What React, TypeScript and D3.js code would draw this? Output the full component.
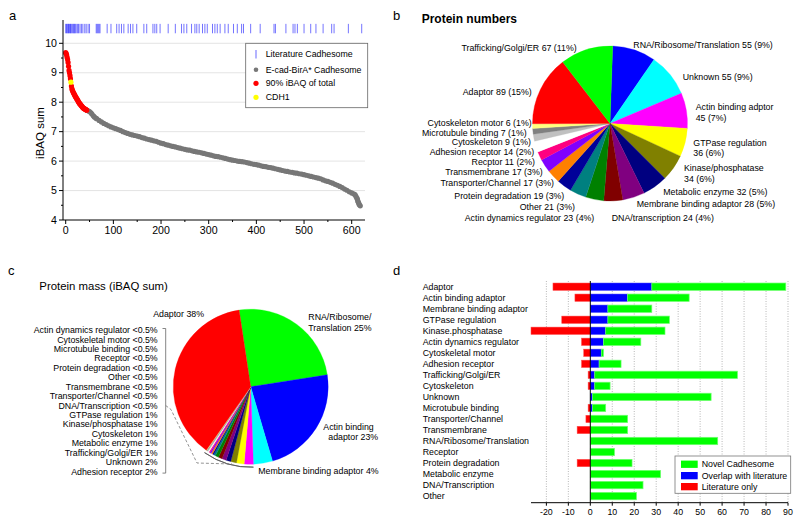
import React from 'react';
import * as d3 from 'd3';

const FONT = '"Liberation Sans", Arial, Helvetica, sans-serif';

// ---------- Panel a data ----------
// iBAQ sum (log10) of the top-ranked proteins (rank = index), 90% of total
const redValues = [9.68, 9.65, 9.6, 9.52, 9.45, 9.35, 9.22, 9.08, 9.0, 8.9, 8.8, 8.68, 8.55, 8.46, 8.41, 8.37, 8.33, 8.3, 8.27, 8.24,
  8.2, 8.18, 8.15, 8.12, 8.1, 8.07, 8.04, 8.01, 7.98, 7.96, 7.94, 7.92, 7.9, 7.88, 7.86, 7.84, 7.82, 7.8, 7.79, 7.78,
  7.77, 7.76, 7.75, 7.74, 7.73];
const cdh1Rank = 11;
const cdh1Value = 8.68;
// remaining proteins [rank, iBAQ sum]
const grayPoints: [number, number][] = [
  [45, 7.72], [48, 7.7], [50, 7.68], [53, 7.64], [55, 7.6], [58, 7.54], [60, 7.5], [63, 7.46], [65, 7.44], [70, 7.38], [75, 7.33], [80, 7.28],
  [85, 7.24], [90, 7.2], [95, 7.16], [100, 7.13], [105, 7.1], [110, 7.07], [115, 7.04], [120, 7.0], [125, 6.97], [130, 6.94],
  [135, 6.91], [140, 6.89], [145, 6.87], [150, 6.85], [155, 6.83], [160, 6.8], [165, 6.78], [170, 6.75], [175, 6.73], [180, 6.71],
  [185, 6.69], [190, 6.67], [195, 6.64], [200, 6.61], [205, 6.59], [210, 6.56], [215, 6.54], [220, 6.52], [225, 6.5], [230, 6.48],
  [235, 6.46], [240, 6.44], [245, 6.42], [250, 6.4], [255, 6.38], [260, 6.37], [265, 6.35], [270, 6.33], [275, 6.31], [280, 6.3],
  [285, 6.28], [290, 6.26], [295, 6.24], [300, 6.22], [305, 6.2], [310, 6.18], [315, 6.16], [320, 6.15], [325, 6.13], [330, 6.11],
  [335, 6.09], [340, 6.07], [345, 6.05], [350, 6.03], [355, 6.02], [360, 6.0], [365, 5.99], [370, 5.98], [375, 5.97], [380, 5.95],
  [385, 5.93], [390, 5.91], [395, 5.89], [400, 5.88], [405, 5.86], [410, 5.84], [415, 5.82], [420, 5.81], [425, 5.79], [430, 5.78],
  [435, 5.76], [440, 5.74], [445, 5.72], [450, 5.7], [455, 5.68], [460, 5.66], [465, 5.65], [470, 5.63], [475, 5.62], [480, 5.6],
  [485, 5.59], [490, 5.57], [495, 5.56], [500, 5.54], [505, 5.52], [510, 5.5], [515, 5.48], [520, 5.46], [525, 5.44], [530, 5.42],
  [535, 5.4], [540, 5.36], [545, 5.33], [550, 5.31], [555, 5.28], [560, 5.25], [565, 5.21], [570, 5.18], [575, 5.14], [580, 5.1],
  [585, 5.05], [590, 5.01], [595, 4.96], [600, 4.92], [604, 4.89], [607, 4.86], [609, 4.8], [611, 4.74], [612, 4.7], [613, 4.64],
  [614, 4.6], [615, 4.56], [616, 4.52], [618, 4.48],
];
// ranks of literature Cadhesome proteins (rug)
const literatureRanks = [0, 2, 3, 5, 6, 8, 10, 11, 13, 15, 17, 18, 20, 22, 25, 27, 30, 33, 36, 40, 43, 47, 50,
  64, 66, 68, 70, 72, 87, 95, 107, 112, 117, 122, 131, 136, 141, 149, 164, 170, 183, 187, 191, 198, 215, 230,
  243, 248, 254, 264, 271, 275, 280, 287, 292, 297, 308, 313, 318, 324, 334, 341, 352, 360, 369, 373, 388,
  408, 437, 440, 462, 477, 481, 486, 500, 514, 525, 540, 558, 563, 593, 621];
const aXTicks = [0, 100, 200, 300, 400, 500, 600];
const aYTicks = [4, 5, 6, 7, 8, 9, 10];

// ---------- palette ----------
const palette = ['#ff0000', '#00ff00', '#0000ff', '#00ffff', '#ff00ff', '#ffff00', '#808000', '#000080', '#800080', '#800000',
  '#008000', '#008080', '#000099', '#ff8000', '#8000ff', '#ff0080', '#ffffff', '#c0c0c0', '#808080', '#ffff80'];

// ---------- Panel b data (clockwise from 12 o'clock) ----------
const bNames = ['RNA/Ribosome/Translation', 'Unknown', 'Actin binding adptor', 'GTPase regulation', 'Kinase/phosphatase',
  'Metabolic enzyme', 'Membrane binding adaptor', 'DNA/transcription', 'Actin dynamics regulator', 'Other',
  'Protein degradation', 'Transporter/Channel', 'Transmembrane', 'Recptor', 'Adhesion receptor', 'Cytoskeleton',
  'Microtubule binding', 'Cytoskeleton motor', 'Adaptor', 'Trafficking/Golgi/ER'];
const bCounts = [55, 55, 45, 36, 34, 32, 28, 24, 23, 21, 19, 17, 17, 11, 14, 9, 7, 6, 89, 67];
const bColorIdx = [2, 3, 4, 5, 6, 7, 8, 9, 10, 11, 12, 13, 14, 15, 16, 17, 18, 19, 0, 1];

// ---------- Panel c data (clockwise) ----------
const cNames = ['RNA/Ribosome/Translation', 'Actin binding adaptor', 'Membrane binding adaptor', 'Adhesion receptor', 'Unknown',
  'Trafficking/Golgi/ER', 'Metabolic enzyme', 'Cytoskeleton', 'Kinase/phosphatase', 'GTPase regulation', 'DNA/Transcription',
  'Transporter/Channel', 'Transmembrane', 'Other', 'Protein degradation', 'Receptor', 'Microtubule binding',
  'Cytoskeletal motor', 'Actin dynamics regulator', 'Adaptor'];
const cMass = [25, 23, 4, 1.9, 1.6, 1.2, 1.0, 0.9, 0.8, 0.7, 0.4, 0.3, 0.3, 0.3, 0.25, 0.2, 0.2, 0.15, 0.1, 38];
const cPctLabels = ['25%', '23%', '4%', '2%', '2%', '1%', '1%', '1%', '1%', '1%', '<0.5%', '<0.5%', '<0.5%', '<0.5%', '<0.5%',
  '<0.5%', '<0.5%', '<0.5%', '<0.5%', '38%'];
const cColorIdx = [1, 2, 3, 4, 5, 6, 7, 8, 9, 10, 11, 12, 13, 14, 15, 16, 17, 18, 19, 0];

// ---------- Panel d data ----------
const dCategories = ['Adaptor', 'Actin binding adaptor', 'Membrane binding adaptor', 'GTPase regulation', 'Kinase.phosphatase',
  'Actin dynamics regulator', 'Cytoskeletal motor', 'Adhesion receptor', 'Trafficking/Golgi/ER', 'Cytoskeleton', 'Unknown',
  'Microtubule binding', 'Transporter/Channel', 'Transmembrane', 'RNA/Ribosome/Translation', 'Receptor',
  'Protein degradation', 'Metabolic enzyme', 'DNA/Transcription', 'Other'];
const literatureOnly = [-17, -7, 0, -13, -27, -4, -3, -4, -1, -1, 0, -1, -2, -6, 0, 0, -6, 0, 0, 0];
const overlapLit = [28, 17, 8, 8, 7, 6, 5, 4, 2, 2, 1, 1, 0, 0, 0, 0, 0, 0, 0, 0];
const novel = [61, 28, 20, 28, 27, 17, 1, 10, 65, 7, 54, 6, 17, 17, 58, 11, 19, 32, 24, 21];
const dTicks = [-20, -10, 0, 10, 20, 30, 40, 50, 60, 70, 80, 90];

const SMALL = 8.8;

function PanelA() {
  const x = d3.scaleLinear().domain([0, 600]).range([65.7, 351.7]);
  const y = d3.scaleLinear().domain([4, 10]).range([220, 43.3]);
  const left = 63, right = 365, top = 20, bottom = 220;
  return (
    <g>
      <text x={9} y={20} fontSize={13}>a</text>
      {aYTicks.filter(t => t > 4).map(t => (
        <line key={'g' + t} x1={left} x2={right} y1={y(t)} y2={y(t)} stroke="#dddddd" strokeWidth={0.8} />
      ))}
      {literatureRanks.map((r, i) => (
        <line key={'r' + i} x1={x(r)} x2={x(r)} y1={y(10.66)} y2={y(10.34)} stroke="#0000ff" strokeOpacity={0.55} strokeWidth={1} />
      ))}
      {grayPoints.map(([r, v], i) => (
        <circle key={'p' + i} cx={x(r)} cy={y(v)} r={2.6} fill="#777777" />
      ))}
      {redValues.map((v, i) => i === cdh1Rank ? null : (
        <circle key={'rd' + i} cx={x(i)} cy={y(v)} r={2.6} fill="#ff0000" />
      ))}
      <circle cx={x(cdh1Rank)} cy={y(cdh1Value)} r={2.6} fill="#ffff00" />
      <line x1={left} x2={left} y1={top} y2={bottom} stroke="#000" strokeWidth={1} />
      <line x1={left} x2={right} y1={bottom} y2={bottom} stroke="#000" strokeWidth={1} />
      {aYTicks.map(t => (
        <g key={'yt' + t}>
          <line x1={left - 4} x2={left} y1={y(t)} y2={y(t)} stroke="#000" />
          <text x={left - 6} y={y(t)} dy="0.35em" textAnchor="end" fontSize={10.6}>{t}</text>
        </g>
      ))}
      {aYTicks.slice(0, -1).map(t => (
        <line key={'ym' + t} x1={left - 2} x2={left} y1={y(t + 0.5)} y2={y(t + 0.5)} stroke="#000" />
      ))}
      {aXTicks.map(t => (
        <g key={'xt' + t}>
          <line x1={x(t)} x2={x(t)} y1={bottom} y2={bottom + 4} stroke="#000" />
          <text x={x(t)} y={bottom + 14} textAnchor="middle" fontSize={10.6}>{t}</text>
        </g>
      ))}
      {aXTicks.slice(0, -1).map(t => (
        <line key={'xm' + t} x1={x(t + 50)} x2={x(t + 50)} y1={bottom} y2={bottom + 2} stroke="#000" />
      ))}
      <text transform={`translate(40,133) rotate(-90)`} textAnchor="middle" dy="0.35em" fontSize={11.5}>iBAQ sum</text>
      <g>
        <rect x={245.7} y={43.3} width={122} height={64.4} fill="#fff" stroke="#666" strokeWidth={0.8} />
        <line x1={256} x2={256} y1={50} y2={58.5} stroke="#8080ff" strokeWidth={1.2} />
        <text x={265.7} y={54} dy="0.35em" fontSize={SMALL}>Literature Cadhesome</text>
        <circle cx={256} cy={69.7} r={2.3} fill="#777" />
        <text x={265.7} y={69.7} dy="0.35em" fontSize={SMALL}>E-cad-BirA* Cadhesome</text>
        <circle cx={256} cy={83.3} r={2.6} fill="#ff0000" />
        <text x={265.7} y={83.3} dy="0.35em" fontSize={SMALL}>90% iBAQ of total</text>
        <circle cx={256} cy={97.3} r={2.6} fill="#ffff00" />
        <text x={265.7} y={97.3} dy="0.35em" fontSize={SMALL}>CDH1</text>
      </g>
    </g>
  );
}

// label layout for panel b: [x, y, anchor, twoLine]
const bLabelLayout: Record<string, [number, number, string, boolean]> = {
  'Trafficking/Golgi/ER': [576.7, 47.7, 'end', false],
  'RNA/Ribosome/Translation': [633.3, 45, 'start', false],
  'Unknown': [682.7, 77.3, 'start', false],
  'Actin binding adptor': [695.7, 107.3, 'start', true],
  'GTPase regulation': [693.3, 142.7, 'start', true],
  'Kinase/phosphatase': [684, 168.3, 'start', true],
  'Metabolic enzyme': [663.3, 192.3, 'start', false],
  'Membrane binding adaptor': [636.7, 204, 'start', false],
  'DNA/transcription': [611.7, 218.3, 'start', false],
  'Actin dynamics regulator': [594.3, 217.7, 'end', false],
  'Other': [575, 206.7, 'end', false],
  'Protein degradation': [564.3, 195.7, 'end', false],
  'Transporter/Channel': [554, 183.3, 'end', false],
  'Transmembrane': [542.7, 172.3, 'end', false],
  'Recptor': [535, 161.7, 'end', false],
  'Adhesion receptor': [534.3, 151.7, 'end', false],
  'Cytoskeleton': [531, 141.7, 'end', false],
  'Microtubule binding': [526.7, 132.7, 'end', false],
  'Cytoskeleton motor': [531.7, 123.3, 'end', false],
  'Adaptor': [531.7, 91.7, 'end', false],
};

function PanelB() {
  const cx = 610, cy = 123.5, R = 77.5;
  const start = (2 * Math.PI) / 180;
  const pie = d3.pie<number>().sort(null).value(d => d).startAngle(start).endAngle(start + 2 * Math.PI);
  const arcs = pie(bCounts);
  const arc = d3.arc<d3.PieArcDatum<number>>().innerRadius(0).outerRadius(R);
  const total = d3.sum(bCounts);
  return (
    <g>
      <text x={393} y={20} fontSize={13}>b</text>
      <text x={421.7} y={23.3} fontSize={12} fontWeight="bold">Protein numbers</text>
      <g transform={`translate(${cx},${cy})`}>
        {arcs.map((a, i) => (
          <path key={i} d={arc(a) || ''} fill={palette[bColorIdx[i]]} stroke={palette[bColorIdx[i]]} strokeWidth={0.3} />
        ))}
      </g>
      {bNames.map((n, i) => {
        const [lx, ly, anchor, two] = bLabelLayout[n];
        const pct = Math.round((bCounts[i] / total) * 100);
        const tail = `${bCounts[i]} (${pct}%)`;
        return two ? (
          <text key={n} fontSize={SMALL} textAnchor={anchor as any}>
            <tspan x={lx} y={ly} dy="0.35em">{n}</tspan>
            <tspan x={lx} y={ly + 10.5} dy="0.35em">{tail}</tspan>
          </text>
        ) : (
          <text key={n} x={lx} y={ly} dy="0.35em" fontSize={SMALL} textAnchor={anchor as any}>{`${n} ${tail}`}</text>
        );
      })}
    </g>
  );
}

function PanelC() {
  const cx = 250.7, cy = 386.7, R = 77.5;
  const start = (-8.6 * Math.PI) / 180;
  const pie = d3.pie<number>().sort(null).value(d => d).startAngle(start).endAngle(start + 2 * Math.PI);
  const arcs = pie(cMass);
  const arc = d3.arc<d3.PieArcDatum<number>>().innerRadius(0).outerRadius(R);
  const bracketArc = d3.arc()({ innerRadius: R + 3, outerRadius: R + 3, startAngle: arcs[2].endAngle, endAngle: arcs[19].startAngle } as any);
  const listIdx = d3.range(18, 2, -1); // small categories, listed top to bottom
  const listTop = 330, listStep = 9.44;
  return (
    <g>
      <text x={8} y={275} fontSize={13}>c</text>
      <text x={39.3} y={290} fontSize={11.4}>Protein mass (iBAQ sum)</text>
      <g transform={`translate(${cx},${cy})`}>
        {arcs.map((a, i) => (
          <path key={i} d={arc(a) || ''} fill={palette[cColorIdx[i]]} stroke={palette[cColorIdx[i]]} strokeWidth={0.3} />
        ))}
        <path d={bracketArc || ''} fill="none" stroke="#555" strokeWidth={0.8} />
      </g>
      <text x={204} y={314.3} dy="0.35em" fontSize={SMALL} textAnchor="end">{`${cNames[19]} ${cPctLabels[19]}`}</text>
      <text fontSize={SMALL}>
        <tspan x={308.3} y={316.7} dy="0.35em">RNA/Ribosome/</tspan>
        <tspan x={308.3} y={328.3} dy="0.35em">{`Translation ${cPctLabels[0]}`}</tspan>
      </text>
      <text fontSize={SMALL}>
        <tspan x={323.3} y={426.7} dy="0.35em">Actin binding</tspan>
        <tspan x={328.3} y={437.3} dy="0.35em">{`adaptor ${cPctLabels[1]}`}</tspan>
      </text>
      <text x={258.3} y={471} dy="0.35em" fontSize={SMALL}>{`${cNames[2]} ${cPctLabels[2]}`}</text>
      {listIdx.map((ci, k) => (
        <text key={ci} x={157.7} y={listTop + k * listStep} dy="0.35em" fontSize={SMALL} textAnchor="end">{`${cNames[ci]} ${cPctLabels[ci]}`}</text>
      ))}
      <path d={`M162.5,${listTop - 1.5} H165.7 V${listTop + 15 * listStep + 1.5} H162.5`} fill="none" stroke="#666" strokeWidth={0.8} />
      <path d={`M165.7,${listTop + 8 * listStep} L171,${listTop + 8 * listStep + 4} L197,463 L232,464`} fill="none" stroke="#777" strokeWidth={0.8} strokeDasharray="3,2" />
    </g>
  );
}

function PanelD() {
  const x = d3.scaleLinear().domain([-27, 90]).range([531, 788]);
  const y = d3.scaleBand<string>().domain(dCategories).range([281.2, 501.6]).paddingInner(0.33).paddingOuter(0.165);
  const axisY = 502.7, top = 281;
  const bh = y.bandwidth();
  return (
    <g>
      <text x={393} y={275} fontSize={13}>d</text>
      {dTicks.filter(t => t !== 0).map(t => (
        <line key={'g' + t} x1={x(t)} x2={x(t)} y1={top} y2={axisY} stroke="#999" strokeWidth={0.7} strokeDasharray="1,1.5" />
      ))}
      {dCategories.map((c, i) => {
        const yy = y(c)!;
        return (
          <g key={c}>
            {literatureOnly[i] < 0 && (
              <rect x={x(literatureOnly[i])} y={yy} width={x(0) - x(literatureOnly[i])} height={bh} fill="#ff0000" stroke="#ff5050" strokeWidth={0.5} />
            )}
            {overlapLit[i] > 0 && (
              <rect x={x(0)} y={yy} width={x(overlapLit[i]) - x(0)} height={bh} fill="#0000ff" stroke="#4040ff" strokeWidth={0.5} />
            )}
            <rect x={x(overlapLit[i])} y={yy} width={x(overlapLit[i] + novel[i]) - x(overlapLit[i])} height={bh} fill="#00ff00" stroke="#70ff70" strokeWidth={0.7} />
            <text x={422.7} y={yy + bh / 2} dy="0.35em" fontSize={SMALL}>{c}</text>
          </g>
        );
      })}
      <line x1={x(0)} x2={x(0)} y1={top} y2={axisY} stroke="#000" strokeWidth={1} />
      <line x1={531} x2={788} y1={axisY} y2={axisY} stroke="#000" strokeWidth={1} />
      {dTicks.map(t => (
        <g key={'t' + t}>
          <line x1={x(t)} x2={x(t)} y1={axisY} y2={axisY + 3} stroke="#000" />
          <text x={x(t)} y={axisY + 12} textAnchor="middle" fontSize={SMALL}>{t}</text>
        </g>
      ))}
      <g>
        <rect x={675} y={456} width={115.7} height={37.3} fill="#fff" stroke="#777" strokeWidth={0.8} />
        <rect x={681} y={460.6} width={16.7} height={7.3} fill="#00ff00" />
        <text x={701.7} y={464.3} dy="0.35em" fontSize={SMALL}>Novel Cadhesome</text>
        <rect x={681} y={472} width={16.7} height={7.3} fill="#0000ff" />
        <text x={701.7} y={475.7} dy="0.35em" fontSize={SMALL}>Overlap with literature</text>
        <rect x={681} y={483} width={16.7} height={7.3} fill="#ff0000" />
        <text x={701.7} y={486.7} dy="0.35em" fontSize={SMALL}>Literature only</text>
      </g>
    </g>
  );
}

export default function App() {
  return (
    <svg width={800} height={523} viewBox="0 0 800 523" fontFamily={FONT}
      style={{ position: 'absolute', left: 0, top: 0, background: '#fff', display: 'block' }}>
      <rect width={800} height={523} fill="#fff" />
      <PanelA />
      <PanelB />
      <PanelC />
      <PanelD />
    </svg>
  );
}
